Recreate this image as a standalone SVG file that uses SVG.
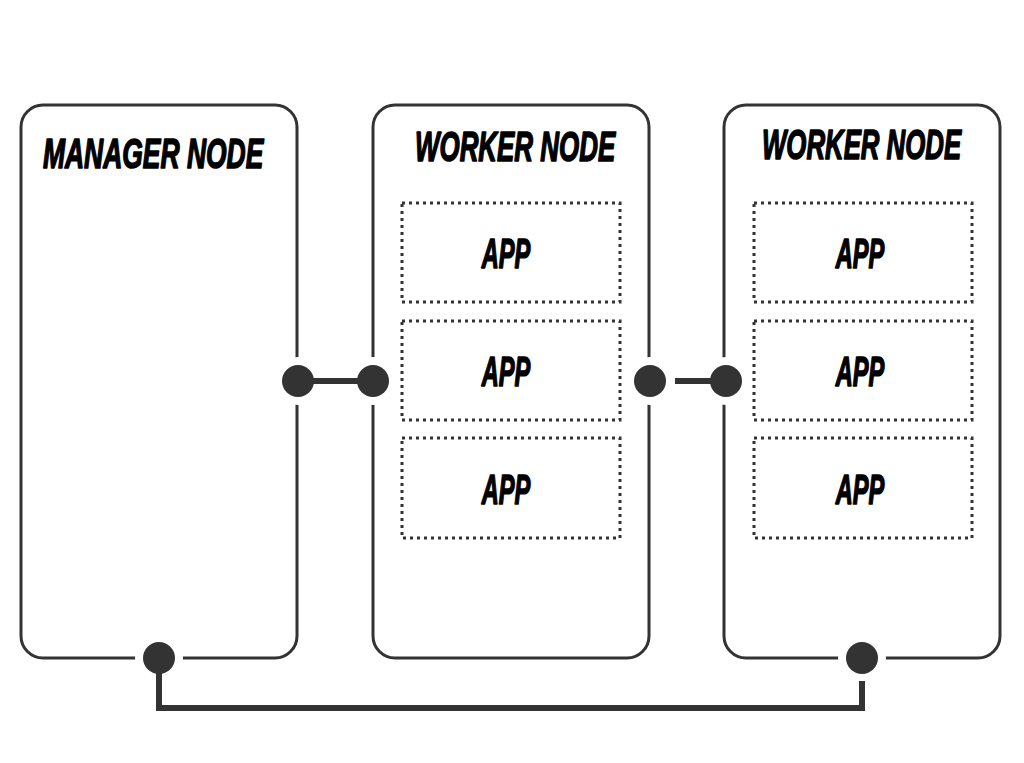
<svg xmlns="http://www.w3.org/2000/svg" width="1024" height="763" viewBox="0 0 1024 763">
<style>
.box{fill:#fff;stroke:#333;stroke-width:3}
.app{fill:none;stroke:#333;stroke-width:3;stroke-dasharray:3 4}
.title{font-family:"Liberation Sans",Arial,sans-serif;font-weight:bold;font-style:italic;font-size:43px;fill:#000;stroke:#000;stroke-width:1.6;stroke-linejoin:round}
.apptxt{font-family:"Liberation Sans",Arial,sans-serif;font-weight:bold;font-style:italic;font-size:43px;fill:#000;stroke:#000;stroke-width:1.6;stroke-linejoin:round;text-anchor:middle}
.halo{fill:#fff}
.dot{fill:#333}
.wire{fill:none;stroke:#333;stroke-width:6}
</style>
<rect width="1024" height="763" fill="#fff"/>
<g id="manager">
<rect class="box" x="21" y="105" width="276" height="553" rx="22"/>
<text class="title" transform="translate(43,168) scale(0.615,1)">MANAGER NODE</text>
</g>
<g id="worker1">
<rect class="box" x="373" y="105" width="276" height="553" rx="22"/>
<text class="title" transform="translate(415,161) scale(0.603,1)">WORKER NODE</text>
<g id="w1app1"><rect class="app" x="402" y="203" width="218" height="99"/><text class="apptxt" transform="translate(506,268) scale(0.55,1)">APP</text></g>
<g id="w1app2"><rect class="app" x="402" y="321" width="218" height="99"/><text class="apptxt" transform="translate(506,386) scale(0.55,1)">APP</text></g>
<g id="w1app3"><rect class="app" x="402" y="438" width="218" height="100"/><text class="apptxt" transform="translate(506,504) scale(0.55,1)">APP</text></g>
</g>
<g id="worker2">
<rect class="box" x="724" y="105" width="276" height="553" rx="22"/>
<text class="title" transform="translate(762,159) scale(0.6,1)">WORKER NODE</text>
<g id="w2app1"><rect class="app" x="754" y="203" width="218" height="99"/><text class="apptxt" transform="translate(860,268) scale(0.55,1)">APP</text></g>
<g id="w2app2"><rect class="app" x="754" y="321" width="218" height="99"/><text class="apptxt" transform="translate(860,386) scale(0.55,1)">APP</text></g>
<g id="w2app3"><rect class="app" x="754" y="438" width="218" height="100"/><text class="apptxt" transform="translate(860,504) scale(0.55,1)">APP</text></g>
</g>
<g id="connectors">
<circle class="halo" cx="298" cy="381" r="24"/>
<circle class="halo" cx="373" cy="381" r="24"/>
<circle class="halo" cx="650" cy="381" r="24"/>
<circle class="halo" cx="726" cy="381" r="24"/>
<circle class="halo" cx="159" cy="658" r="24"/>
<circle class="halo" cx="862" cy="658" r="24"/>
<line class="wire" x1="298" y1="381" x2="373" y2="381"/>
<line class="wire" x1="675" y1="381" x2="726" y2="381"/>
<path class="wire" d="M159,658 V708 H862 V681"/>
<circle class="dot" cx="298" cy="381" r="16"/>
<circle class="dot" cx="373" cy="381" r="16"/>
<circle class="dot" cx="650" cy="381" r="16"/>
<circle class="dot" cx="726" cy="381" r="16"/>
<circle class="dot" cx="159" cy="658" r="16"/>
<circle class="dot" cx="862" cy="658" r="16"/>
</g>
</svg>
